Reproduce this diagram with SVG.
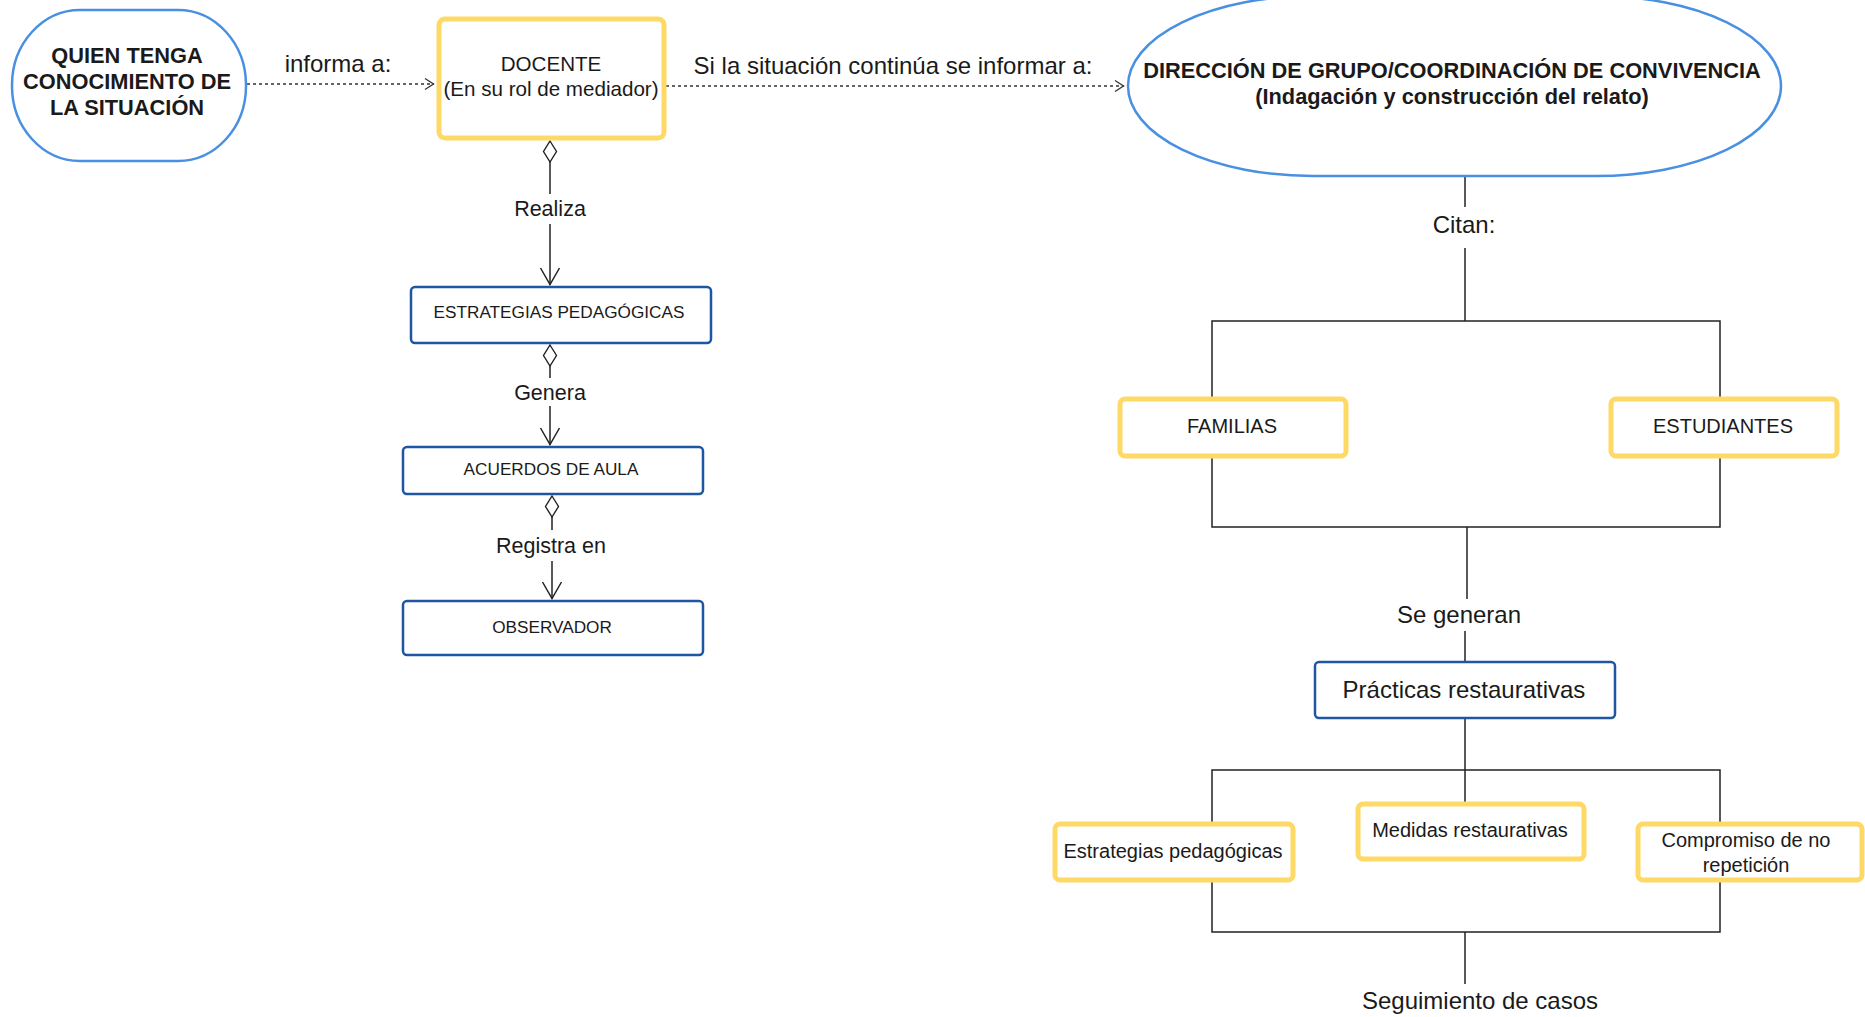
<svg xmlns="http://www.w3.org/2000/svg" width="1865" height="1017" viewBox="0 0 1865 1017">
<style>
text{font-family:"Liberation Sans",Arial,sans-serif;fill:#1a1a1a;text-anchor:middle}
.b{font-weight:bold;font-size:21.8px}
.n20{font-size:20px}
.d20{font-size:20.6px}
.n17{font-size:17.2px}
.lbl{font-size:24px}
.lbs{font-size:21.5px}
.oval{fill:#fff;stroke:#4a90e2;stroke-width:2.5}
.yel{fill:#fff;stroke:#ffd966;stroke-width:5}
.blu{fill:#fff;stroke:#1f56a3;stroke-width:2.5}
.ln{fill:none;stroke:#222;stroke-width:1.5}
.dash{fill:none;stroke:#333;stroke-width:1.3;stroke-dasharray:3 3}
</style>
<defs>
<marker id="arr" viewBox="0 0 20 22" refX="19" refY="11" markerWidth="20" markerHeight="22" markerUnits="userSpaceOnUse" orient="auto">
<path d="M2,1.5 L18.5,11 L2,20.5" fill="none" stroke="#222" stroke-width="1.5"/>
</marker>
<marker id="darr" viewBox="0 0 12 14" refX="11" refY="7" markerWidth="12" markerHeight="14" markerUnits="userSpaceOnUse" orient="auto">
<path d="M2,1.5 L10.5,7 L2,12.5" fill="none" stroke="#333" stroke-width="1.3"/>
</marker>
<marker id="dia" viewBox="0 0 24 16" refX="1" refY="8" markerWidth="24" markerHeight="16" markerUnits="userSpaceOnUse" orient="auto">
<path d="M1,8 L11.5,1.5 L22,8 L11.5,14.5 Z" fill="#fff" stroke="#222" stroke-width="1.4"/>
</marker>
</defs>

<g id="connectors">
<path class="dash" d="M247,84 L434,84" marker-end="url(#darr)"/>
<path class="dash" d="M666,86 L1124,86" marker-end="url(#darr)"/>
<path class="ln" d="M550,141 L550,194" marker-start="url(#dia)"/>
<path class="ln" d="M550,224 L550,285" marker-end="url(#arr)"/>
<path class="ln" d="M550,345 L550,378" marker-start="url(#dia)"/>
<path class="ln" d="M550,406 L550,445" marker-end="url(#arr)"/>
<path class="ln" d="M552,496 L552,530" marker-start="url(#dia)"/>
<path class="ln" d="M552,561 L552,599" marker-end="url(#arr)"/>
<path class="ln" d="M1465,176 L1465,207"/>
<path class="ln" d="M1465,248 L1465,321"/>
<path class="ln" d="M1212,321 H1720 V527 H1212 Z"/>
<path class="ln" d="M1467,527 L1467,599"/>
<path class="ln" d="M1465,631 L1465,662"/>
<path class="ln" d="M1465,718 L1465,803"/>
<path class="ln" d="M1212,770 H1720 V932 H1212 Z"/>
<path class="ln" d="M1465,932 L1465,984"/>
<text class="lbl" x="338" y="72">informa a:</text>
<text class="lbl" x="893" y="74">Si la situación continúa se informar a:</text>
<text class="lbs" x="550" y="216">Realiza</text>
<text class="lbs" x="550" y="400">Genera</text>
<text class="lbs" x="551" y="553">Registra en</text>
<text class="lbl" x="1464" y="233">Citan:</text>
<text class="lbl" x="1459" y="623">Se generan</text>
<text class="lbl" x="1480" y="1009">Seguimiento de casos</text>
</g>

<g id="quien">
<rect class="oval" x="12" y="10" width="234" height="151" rx="68" ry="75"/>
<text class="b" x="127" y="63">QUIEN TENGA</text>
<text class="b" x="127" y="89">CONOCIMIENTO DE</text>
<text class="b" x="127" y="115">LA SITUACIÓN</text>
</g>

<g id="docente">
<rect class="yel" x="439" y="19" width="225" height="119" rx="6"/>
<text class="d20" x="551" y="71">DOCENTE</text>
<text class="d20" x="551" y="96">(En su rol de mediador)</text>
</g>

<g id="direccion">
<rect class="oval" x="1128" y="-4" width="653" height="180" rx="185" ry="90"/>
<text class="b" x="1452" y="78">DIRECCIÓN DE GRUPO/COORDINACIÓN DE CONVIVENCIA</text>
<text class="b" x="1452" y="104">(Indagación y construcción del relato)</text>
</g>

<g id="estrategias-ped">
<rect class="blu" x="411" y="287" width="300" height="56" rx="4"/>
<text class="n17" x="559" y="318">ESTRATEGIAS PEDAGÓGICAS</text>
</g>

<g id="acuerdos">
<rect class="blu" x="403" y="447" width="300" height="47" rx="4"/>
<text class="n17" x="551" y="475">ACUERDOS DE AULA</text>
</g>

<g id="observador">
<rect class="blu" x="403" y="601" width="300" height="54" rx="4"/>
<text class="n17" x="552" y="633">OBSERVADOR</text>
</g>

<g id="familias">
<rect class="yel" x="1120" y="399" width="226" height="57" rx="5"/>
<text class="n20" x="1232" y="433">FAMILIAS</text>
</g>

<g id="estudiantes">
<rect class="yel" x="1611" y="399" width="226" height="57" rx="5"/>
<text class="n20" x="1723" y="433">ESTUDIANTES</text>
</g>

<g id="practicas">
<rect class="blu" x="1315" y="662" width="300" height="56" rx="4"/>
<text class="lbl" x="1464" y="698">Prácticas restaurativas</text>
</g>

<g id="estrategias">
<rect class="yel" x="1055" y="824" width="238" height="56" rx="5"/>
<text class="n20" x="1173" y="858">Estrategias pedagógicas</text>
</g>

<g id="medidas">
<rect class="yel" x="1358" y="804" width="226" height="55" rx="5"/>
<text class="n20" x="1470" y="837">Medidas restaurativas</text>
</g>

<g id="compromiso">
<rect class="yel" x="1638" y="824" width="224" height="56" rx="5"/>
<text class="n20" x="1746" y="847">Compromiso de no</text>
<text class="n20" x="1746" y="872">repetición</text>
</g>
</svg>
